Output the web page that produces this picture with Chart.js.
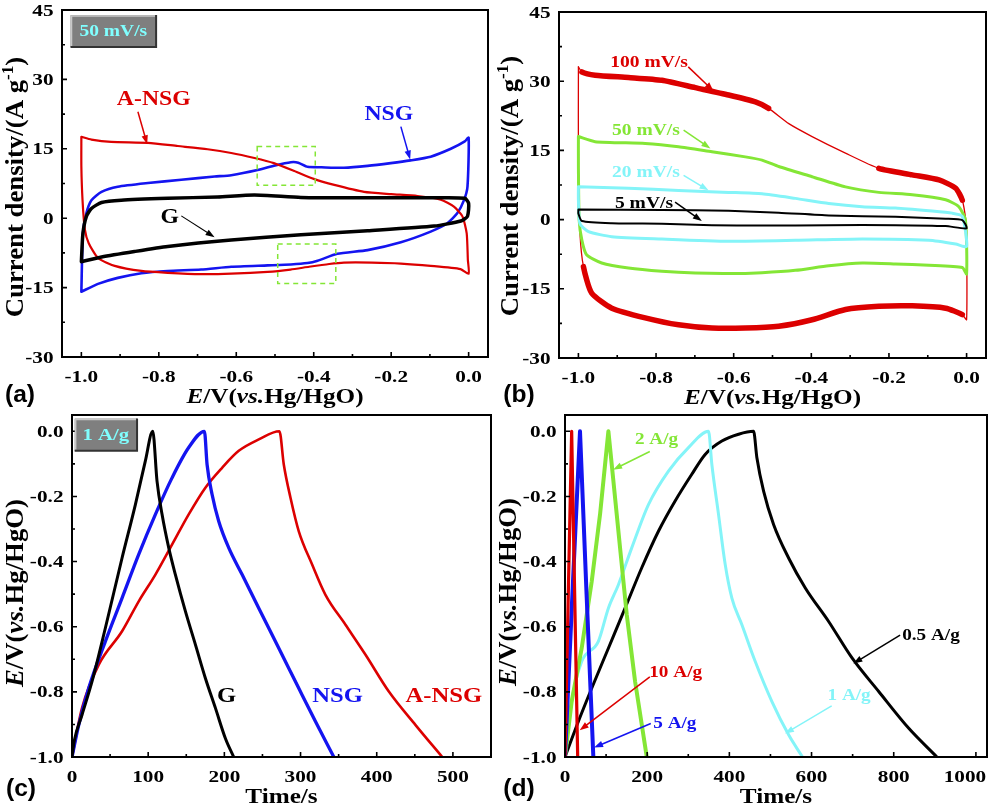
<!DOCTYPE html>
<html>
<head>
<meta charset="utf-8">
<title>CV and GCD curves</title>
<script src="https://cdn.jsdelivr.net/npm/chart.js@4.4.1/dist/chart.umd.min.js"></script>
<style>
  body { margin: 0; background: #fff; }
  #fig { position: relative; width: 990px; height: 806px; overflow: hidden; background: #fff; }
  #fig canvas { position: absolute; }
</style>
</head>
<body>
<div id="fig">
  <canvas id="cvA" width="495" height="410" style="left:0;top:0"></canvas>
  <canvas id="cvB" width="495" height="410" style="left:495px;top:0"></canvas>
  <canvas id="gcdC" width="495" height="406" style="left:0;top:400px"></canvas>
  <canvas id="gcdD" width="495" height="406" style="left:495px;top:400px"></canvas>
</div>
<script>
// ---- colours / fonts
const RED = '#dc0000', BLUE = '#1414f0', BLACK = '#000000', GREEN = '#84e636', CYAN = '#84f4f8';
const SERIF = '"Liberation Serif", "Times New Roman", serif';
const SANS = '"Liberation Sans", Arial, sans-serif';

// ---- ticks
const cvXTicks = [-1.0, -0.8, -0.6, -0.4, -0.2, 0.0];
const cvXMinor = [-0.9, -0.7, -0.5, -0.3, -0.1];
const cvYTicks = [-30, -15, 0, 15, 30, 45];
const cvYMinor = [-22.5, -7.5, 7.5, 22.5, 37.5];
const gcdYTicks = [-1.0, -0.8, -0.6, -0.4, -0.2, 0.0];
const gcdYMinor = [-0.9, -0.7, -0.5, -0.3, -0.1];
const cXTicks = [0, 100, 200, 300, 400, 500];
const cXMinor = [50, 150, 250, 350, 450];
const dXTicks = [0, 200, 400, 600, 800, 1000];
const dXMinor = [100, 300, 500, 700, 900];

// ---- (a) CV at 50 mV/s, potential E (V) and current density j (A/g), closed loops
const aNsgE = [-1.0, -0.974, -0.923, -0.828, -0.751, -0.674, -0.613, -0.553, -0.503, -0.45, -0.4, -0.347, -0.27, -0.2, -0.132, -0.072, -0.038, -0.016, -0.005, -0.002, 0.0,
  -0.021, -0.098, -0.175, -0.25, -0.322, -0.36, -0.412, -0.46, -0.519, -0.613, -0.691, -0.777, -0.845, -0.914, -0.957, -0.981, -0.991, -0.997, -1.0, -1.0];
const aNsgJ = [17.6, 17.0, 16.5, 16.3, 15.6, 14.9, 14.1, 13.0, 11.9, 10.2, 8.5, 7.2, 5.7, 5.2, 4.8, 4.0, 2.5, 0.4, -3.3, -9.0, -12.0,
  -11.0, -10.3, -9.8, -9.6, -9.6, -9.9, -10.5, -11.1, -11.6, -12.0, -12.1, -11.8, -11.4, -10.3, -8.6, -5.4, -2.4, 3.9, 11.1, 17.6];
const nsgE = [-1.0, -0.996, -0.987, -0.974, -0.948, -0.906, -0.828, -0.742, -0.656, -0.613, -0.545, -0.5, -0.459, -0.44, -0.416, -0.38, -0.322, -0.261, -0.201, -0.15, -0.098, -0.046, -0.01, 0.0,
  -0.003, -0.012, -0.029, -0.055, -0.098, -0.175, -0.261, -0.339, -0.39, -0.416, -0.459, -0.519, -0.613, -0.691, -0.777, -0.845, -0.906, -0.957, -1.0];
const nsgJ = [-15.9, -3.3, 1.1, 3.9, 5.7, 6.8, 7.6, 8.3, 9.0, 9.3, 10.4, 11.4, 12.1, 12.0, 11.1, 11.0, 10.9, 11.3, 11.9, 12.5, 13.3, 15.0, 16.6, 17.4,
  6.8, 3.9, 1.1, -1.1, -2.9, -5.2, -6.9, -7.7, -9.2, -9.7, -10.0, -10.2, -10.5, -11.1, -11.4, -11.9, -12.9, -14.2, -15.9];
const gE = [-1.0, -0.996, -0.987, -0.974, -0.948, -0.897, -0.777, -0.648, -0.553, -0.433, -0.261, -0.089, -0.01, 0.0,
  -0.003, -0.02, -0.089, -0.261, -0.433, -0.613, -0.777, -0.863, -0.948, -1.0];
const gJ = [-9.4, -3.3, 0.4, 2.1, 3.4, 3.9, 4.3, 4.6, 5.0, 4.5, 4.4, 4.4, 4.3, 3.2,
  0.4, -0.6, -1.7, -2.7, -3.6, -4.7, -6.1, -7.2, -8.4, -9.4];

// ---- (b) CV of A-NSG at several scan rates
const r100E = [-1.0, -0.991, -0.957, -0.871, -0.785, -0.699, -0.613, -0.544, -0.510, -0.458, -0.398, -0.312, -0.226, -0.140, -0.071, -0.028, -0.011, -0.002, 0.0, 0.0,
  -0.011, -0.054, -0.140, -0.226, -0.312, -0.398, -0.484, -0.570, -0.656, -0.742, -0.828, -0.914, -0.966, -0.987, -0.996, -1.0, -1.0];
const r100J = [33.1, 32.0, 31.3, 30.8, 30.2, 28.6, 27.0, 25.5, 24.1, 20.8, 18.0, 14.4, 11.1, 9.7, 8.6, 6.8, 4.2, -0.1, -3.0, -21.7,
  -20.6, -19.2, -18.7, -18.8, -19.5, -21.7, -23.1, -23.5, -23.5, -22.8, -21.3, -19.2, -15.9, -10.2, -2.9, 11.5, 33.1];
const r50E = [-1.0, -0.957, -0.828, -0.742, -0.656, -0.570, -0.527, -0.484, -0.398, -0.312, -0.226, -0.140, -0.054, -0.020, -0.003, 0.0,
  -0.011, -0.097, -0.183, -0.269, -0.355, -0.441, -0.527, -0.613, -0.699, -0.785, -0.871, -0.940, -0.979, -0.991, -0.998, -1.0, -1.0];
const r50J = [18.0, 16.9, 16.5, 15.8, 14.7, 13.6, 12.9, 11.5, 9.3, 7.1, 5.9, 5.4, 4.3, 2.8, -0.1, -11.8,
  -10.4, -9.9, -9.6, -9.4, -10.0, -11.0, -11.5, -11.7, -11.6, -11.2, -10.5, -9.4, -7.6, -4.5, -0.1, 11.5, 18.0];
const r20E = [-1.0, -0.871, -0.742, -0.613, -0.527, -0.441, -0.355, -0.269, -0.183, -0.097, -0.037, -0.011, 0.0,
  -0.028, -0.097, -0.269, -0.441, -0.613, -0.785, -0.914, -0.974, -0.996, -1.0, -1.0];
const r20J = [7.1, 6.8, 6.3, 5.9, 5.6, 4.6, 3.5, 2.8, 2.5, 1.9, 1.4, 0.7, -5.8,
  -5.3, -4.5, -4.2, -4.5, -4.7, -4.2, -3.7, -2.6, -0.9, 4.2, 7.1];
const r5E = [-1.0, -0.785, -0.613, -0.484, -0.355, -0.183, -0.054, -0.011, 0.0,
  -0.054, -0.183, -0.355, -0.527, -0.656, -0.785, -0.914, -0.991, -1.0, -1.0];
const r5J = [2.2, 2.1, 1.9, 1.5, 0.9, 0.6, 0.2, -0.1, -1.9,
  -1.4, -1.2, -1.2, -1.3, -1.2, -0.9, -0.8, -0.3, 1.3, 2.2];

// ---- (c) GCD at 1 A/g, time (s) and potential (V)
const cGT = [0, 3, 13.1, 26.3, 43.8, 65.7, 83.2, 96.3, 106, 111.6, 118.2, 127, 135.7, 148.9, 162, 175.1, 188.3, 201.4, 212.3];
const cGV = [-1.0, -0.95, -0.871, -0.768, -0.604, -0.389, -0.225, -0.091, 0.0, -0.153, -0.255, -0.358, -0.44, -0.553, -0.655, -0.758, -0.85, -0.943, -1.0];
const cNsgT = [0, 8.8, 21.9, 43.8, 65.7, 87.6, 109.5, 131.3, 153.2, 173.8, 177.3, 183.9, 192.6, 205.8, 223.3, 245.2, 271.5, 297.7, 319.6, 343.7];
const cNsgV = [-1.0, -0.902, -0.789, -0.645, -0.512, -0.378, -0.255, -0.143, -0.05, 0.0, -0.102, -0.194, -0.276, -0.358, -0.44, -0.543, -0.666, -0.789, -0.891, -1.0];
const cANsgT = [0, 13.1, 35, 65.7, 87.6, 109.5, 131.3, 153.2, 175.1, 197, 218.9, 245.2, 272.3, 278, 286.8, 297.7, 315.2, 332.7, 359, 385.3, 415.9, 451, 486];
const cANsgV = [-1.0, -0.85, -0.717, -0.614, -0.522, -0.44, -0.348, -0.255, -0.173, -0.112, -0.06, -0.025, 0.0, -0.102, -0.204, -0.307, -0.409, -0.502, -0.594, -0.686, -0.799, -0.902, -1.0];

// ---- (d) GCD of A-NSG at several current densities
const d05T = [0, 32.5, 65, 105.6, 146.2, 186.8, 227.4, 268, 308.6, 341.1, 381.7, 422.4, 458.9, 467, 483.3, 507.6, 544.2, 584.8, 641.6, 698.5, 763.5, 836.6, 905];
const d05V = [-1.0, -0.891, -0.789, -0.666, -0.543, -0.419, -0.307, -0.214, -0.132, -0.071, -0.030, -0.009, 0.0, -0.081, -0.184, -0.286, -0.389, -0.481, -0.584, -0.696, -0.799, -0.912, -1.0];
const d1T = [0, 16.2, 40.6, 81.2, 105.6, 130, 162.4, 203.1, 251.8, 300.5, 349.3, 357.4, 373.6, 389.9, 406.1, 430.5, 463, 503.6, 544.2, 578];
const d1V = [-1.0, -0.83, -0.707, -0.645, -0.543, -0.471, -0.358, -0.225, -0.122, -0.05, 0.0, -0.102, -0.255, -0.409, -0.512, -0.594, -0.707, -0.83, -0.932, -1.0];
const d2T = [0, 16.2, 40.6, 65, 85.3, 97.5, 105.6, 117.8, 134, 150.3, 170.6, 199];
const d2V = [-1.0, -0.83, -0.666, -0.461, -0.255, -0.102, 0.0, -0.153, -0.358, -0.563, -0.768, -1.0];
const d5T = [0, 18, 36.5, 52.5, 69];
const d5V = [-1.0, -0.5, 0.0, -0.5, -1.0];
const d10T = [0, 8, 16.2, 23.5, 30.9];
const d10V = [-1.0, -0.5, 0.0, -0.5, -1.0];

// ---- mixed-style text (bold serif, italic parts, superscripts)
function richText(ctx, parts, x, y, o) {
  const size = o.size, sx = o.sx || 1, fam = o.family || SERIF;
  const fontOf = st => (st === 'i' ? 'italic ' : '') + 'bold ' + (st === 's' ? Math.round(size * 0.62) : size) + 'px ' + fam;
  ctx.save();
  ctx.translate(x, y);
  if (o.rotate) ctx.rotate(-Math.PI / 2);
  ctx.scale(sx, 1);
  let total = 0;
  const widths = parts.map(p => { ctx.font = fontOf(p[1]); const w = ctx.measureText(p[0]).width; total += w; return w; });
  let cx = o.align === 'right' ? -total : (o.align === 'left' ? 0 : -total / 2);
  ctx.fillStyle = o.color || '#000';
  ctx.textBaseline = 'alphabetic';
  ctx.textAlign = 'left';
  parts.forEach((p, i) => {
    ctx.font = fontOf(p[1]);
    ctx.fillText(p[0], cx, size * 0.33 + (p[1] === 's' ? -size * 0.42 : 0));
    cx += widths[i];
  });
  ctx.restore();
}

function arrow(ctx, x1, y1, x2, y2, color, lw) {
  const ang = Math.atan2(y2 - y1, x2 - x1), hl = 9, hw = 3.2;
  ctx.save();
  ctx.strokeStyle = color; ctx.fillStyle = color; ctx.lineWidth = lw;
  ctx.beginPath(); ctx.moveTo(x1, y1);
  ctx.lineTo(x2 - Math.cos(ang) * hl * 0.8, y2 - Math.sin(ang) * hl * 0.8); ctx.stroke();
  ctx.beginPath();
  ctx.moveTo(x2, y2);
  ctx.lineTo(x2 - Math.cos(ang) * hl - Math.sin(ang) * hw, y2 - Math.sin(ang) * hl + Math.cos(ang) * hw);
  ctx.lineTo(x2 - Math.cos(ang) * hl + Math.sin(ang) * hw, y2 - Math.sin(ang) * hl - Math.cos(ang) * hw);
  ctx.closePath(); ctx.fill();
  ctx.restore();
}

// frame, inner ticks, tick labels, axis titles and annotations
const figPlugin = {
  id: 'fig',
  afterDatasetsDraw(chart, args, o) {
    const ctx = chart.ctx, a = chart.chartArea, xs = chart.scales.x, ys = chart.scales.y;
    const X = v => xs.getPixelForValue(v), Y = v => ys.getPixelForValue(v);
    ctx.save();

    (o.dashBoxes || []).forEach(b => {
      ctx.save();
      ctx.strokeStyle = GREEN; ctx.lineWidth = 1.5; ctx.setLineDash([5, 4]);
      ctx.strokeRect(X(b[0]), Y(b[2]), X(b[1]) - X(b[0]), Y(b[3]) - Y(b[2]));
      ctx.restore();
    });

    ctx.strokeStyle = '#000';
    ctx.lineWidth = 2;
    ctx.strokeRect(a.left, a.top, a.right - a.left, a.bottom - a.top);

    ctx.lineWidth = 1.6;
    ctx.beginPath();
    xs.ticks.forEach(t => { ctx.moveTo(X(t.value), a.bottom); ctx.lineTo(X(t.value), a.bottom - 5); });
    o.minorX.forEach(v => { ctx.moveTo(X(v), a.bottom); ctx.lineTo(X(v), a.bottom - 3); });
    ys.ticks.forEach(t => { ctx.moveTo(a.left, Y(t.value)); ctx.lineTo(a.left + 5, Y(t.value)); });
    o.minorY.forEach(v => { ctx.moveTo(a.left, Y(v)); ctx.lineTo(a.left + 3, Y(v)); });
    ctx.stroke();

    // the last x label is pulled in a little when it would run off the figure
    const last = xs.ticks.length - 1;
    xs.ticks.forEach((t, i) => richText(ctx, [[o.fmtX(t.value), '']], X(t.value) + (i === last ? (o.lastShift || 0) : 0), a.bottom + 19, { size: 17, sx: 1.25 }));
    ys.ticks.forEach(t => richText(ctx, [[o.fmtY(t.value), '']], a.left - 8.5, Y(t.value), { size: 17, sx: 1.25, align: 'right' }));

    richText(ctx, o.xTitle, (a.left + a.right) / 2, a.bottom + 39, { size: 20, sx: 1.26 });
    richText(ctx, o.yTitle[0], o.yTitle[1], o.yTitle[2], { size: o.yTitle[3], sx: 1.07, rotate: true });

    (o.tags || []).forEach(b => {
      const x1 = X(b.x1), x2 = X(b.x2), y1 = Y(b.y1), y2 = Y(b.y2);
      ctx.fillStyle = '#7f7f7f'; ctx.fillRect(x1, y1, x2 - x1, y2 - y1);
      ctx.strokeStyle = '#c8c8c8'; ctx.lineWidth = 1.5;
      ctx.beginPath(); ctx.moveTo(x1 + 1, y2 - 1); ctx.lineTo(x1 + 1, y1 + 1); ctx.lineTo(x2 - 1, y1 + 1); ctx.stroke();
      ctx.strokeStyle = '#333'; ctx.lineWidth = 2;
      ctx.beginPath(); ctx.moveTo(x1, y2); ctx.lineTo(x2, y2); ctx.lineTo(x2, y1); ctx.stroke();
      richText(ctx, [[b.text, '']], (x1 + x2) / 2, (y1 + y2) / 2, { size: b.size, sx: 1.22, color: '#80ffff' });
    });

    (o.arrows || []).forEach(r => arrow(ctx, X(r[0]), Y(r[1]), X(r[2]), Y(r[3]), r[4], r[5]));
    (o.labels || []).forEach(l => richText(ctx, [[l[0], '']], X(l[1]), Y(l[2]), { size: o.labelSize, sx: o.labelSx, color: l[3] }));

    richText(ctx, [[o.panel[0], '']], o.panel[1], o.panel[2], { size: 23, sx: 1.07, family: SANS });
    ctx.restore();
  }
};

const pts = (xs, ys) => xs.map((x, i) => ({ x: x, y: ys[i] }));
function series(xs, ys, color, width, extra) {
  return Object.assign({ data: pts(xs, ys), borderColor: color, borderWidth: width, pointRadius: 0, fill: false }, extra || {});
}

function makeChart(id, c) {
  return new Chart(document.getElementById(id), {
    type: 'line',
    data: { datasets: c.datasets },
    options: {
      responsive: false,
      animation: false,
      events: [],
      layout: { padding: c.padding },
      plugins: { legend: { display: false }, tooltip: { enabled: false }, fig: c.fig },
      elements: { point: { radius: 0 }, line: { borderJoinStyle: 'round', borderCapStyle: 'round' } },
      scales: {
        x: {
          type: 'linear', min: c.xMin, max: c.xMax,
          grid: { display: false, drawTicks: false }, border: { display: false },
          ticks: { display: false },
          afterBuildTicks: s => { s.ticks = c.xTicks.map(v => ({ value: v })); },
          afterFit: s => { s.height = c.xH; }
        },
        y: {
          type: 'linear', min: c.yMin, max: c.yMax,
          grid: { display: false, drawTicks: false }, border: { display: false },
          ticks: { display: false },
          afterBuildTicks: s => { s.ticks = c.yTicks.map(v => ({ value: v })); },
          afterFit: s => { s.width = c.yW; }
        }
      }
    },
    plugins: [figPlugin]
  });
}

const EVtitle = [['E', 'i'], ['/V(', ''], ['vs.', 'i'], ['Hg/HgO)', '']];
const Jtitle = [['Current density/(A g', ''], ['-1', 's'], [')', '']];
const f1 = v => v.toFixed(1), f0 = v => String(v);
const cvLine = { tension: 0.2 };
const gcdLine = { cubicInterpolationMode: 'monotone' };
const straight = { tension: 0 };

// (a)
makeChart('cvA', {
  padding: { left: 0, top: 10, right: 7, bottom: 0 }, xH: 53, yW: 62,
  xMin: -1.05, xMax: 0.05, yMin: -30, yMax: 45, xTicks: cvXTicks, yTicks: cvYTicks,
  datasets: [
    series(gE, gJ, BLACK, 3.5, cvLine),
    series(aNsgE, aNsgJ, RED, 2.2, cvLine),
    series(nsgE, nsgJ, BLUE, 2.6, cvLine)
  ],
  fig: {
    minorX: cvXMinor, minorY: cvYMinor, fmtX: f1, fmtY: f0,
    xTitle: EVtitle, yTitle: [Jtitle, 15, 187, 25],
    dashBoxes: [[-0.546, -0.396, 15.5, 7.1], [-0.493, -0.343, -5.6, -14.1]],
    tags: [{ text: '50 mV/s', x1: -1.028, x2: -0.807, y1: 43.9, y2: 37.0, size: 16 }],
    labelSize: 21, labelSx: 1.13,
    labels: [['A-NSG', -0.813, 25.9, RED], ['NSG', -0.206, 22.7, BLUE], ['G', -0.772, 0.5, BLACK]],
    arrows: [[-0.854, 23.0, -0.830, 16.0, RED, 1.5], [-0.175, 19.8, -0.151, 12.7, BLUE, 1.5], [-0.742, 0.5, -0.656, -4.1, BLACK, 1.1]],
    panel: ['(a)', 20, 394]
  }
});

// (b)
const red100Width = ctx => {
  const x0 = ctx.p0.parsed.x, x1 = ctx.p1.parsed.x, y0 = ctx.p0.parsed.y;
  if ((x0 > -0.015 && x1 > -0.015) || (x0 < -0.985 && x1 < -0.985)) return 1.3;
  if (y0 > 0 && Math.min(x0, x1) >= -0.515 && Math.max(x0, x1) <= -0.22) return 1.3;
  return 5.5;
};
makeChart('cvB', {
  padding: { left: 0, top: 12, right: 4, bottom: 0 }, xH: 52, yW: 64,
  xMin: -1.05, xMax: 0.05, yMin: -30, yMax: 45, xTicks: cvXTicks, yTicks: cvYTicks,
  datasets: [
    series(r5E, r5J, BLACK, 2, cvLine),
    series(r20E, r20J, CYAN, 3, cvLine),
    series(r50E, r50J, GREEN, 3, cvLine),
    series(r100E, r100J, RED, 5.5, Object.assign({ segment: { borderWidth: red100Width } }, cvLine))
  ],
  fig: {
    minorX: cvXMinor, minorY: cvYMinor, fmtX: f1, fmtY: f0,
    xTitle: EVtitle, yTitle: [Jtitle, 15, 186, 25],
    labelSize: 17, labelSx: 1.15,
    labels: [['100 mV/s', -0.818, 34.4, RED], ['50 mV/s', -0.826, 19.5, GREEN], ['20 mV/s', -0.826, 10.4, CYAN], ['5 mV/s', -0.831, 3.8, BLACK]],
    arrows: [[-0.717, 33.1, -0.652, 27.9, RED, 1.5], [-0.729, 19.4, -0.660, 15.4, GREEN, 1.5],
             [-0.729, 9.6, -0.665, 6.35, CYAN, 1.5], [-0.751, 3.8, -0.682, -0.3, BLACK, 1.5]],
    panel: ['(b)', 24, 394]
  }
});

// (c)
makeChart('gcdC', {
  padding: { left: 0, top: 15, right: 4, bottom: 0 }, xH: 49, yW: 72,
  xMin: 0, xMax: 550, yMin: -1.0, yMax: 0.05, xTicks: cXTicks, yTicks: gcdYTicks,
  datasets: [
    series(cGT, cGV, BLACK, 3, gcdLine),
    series(cNsgT, cNsgV, BLUE, 3.3, gcdLine),
    series(cANsgT, cANsgV, RED, 2.6, gcdLine)
  ],
  fig: {
    minorX: cXMinor, minorY: gcdYMinor, fmtX: f0, fmtY: f1,
    xTitle: [['Time/s', '']], yTitle: [EVtitle, 15, 193, 25],
    tags: [{ text: '1 A/g', x1: 3.5, x2: 85.4, y1: 0.039, y2: -0.060, size: 17 }],
    labelSize: 22, labelSx: 1.12,
    labels: [['G', 202.8, -0.81, BLACK], ['NSG', 348.5, -0.81, BLUE], ['A-NSG', 488, -0.81, RED]],
    panel: ['(c)', 21, 388]
  }
});

// (d)
makeChart('gcdD', {
  padding: { left: 0, top: 15, right: 3, bottom: 0 }, xH: 49, yW: 70,
  xMin: 0, xMax: 1027, yMin: -1.0, yMax: 0.05, xTicks: dXTicks, yTicks: gcdYTicks,
  datasets: [
    series(d10T, d10V, RED, 3.2, straight),
    series(d5T, d5V, BLUE, 4, straight),
    series(d2T, d2V, GREEN, 4, straight),
    series(d1T, d1V, CYAN, 3, gcdLine),
    series(d05T, d05V, BLACK, 3, gcdLine)
  ],
  fig: {
    minorX: dXMinor, minorY: gcdYMinor, fmtX: f0, fmtY: f1, lastShift: -11,
    xTitle: [['Time/s', '']], yTitle: [EVtitle, 13, 192, 25],
    labelSize: 17, labelSx: 1.13,
    labels: [['2 A/g', 222.7, -0.022, GREEN], ['0.5 A/g', 890.6, -0.623, BLACK], ['10 A/g', 269.3, -0.738, RED],
             ['5 A/g', 267.3, -0.895, BLUE], ['1 A/g', 691.4, -0.807, CYAN]],
    arrows: [[206.4, -0.062, 117, -0.118, GREEN, 1.5], [815.5, -0.626, 701.8, -0.713, BLACK, 1.5],
             [206.4, -0.754, 35.8, -0.918, RED, 1.5], [208.8, -0.897, 70.7, -0.971, BLUE, 1.5],
             [649, -0.843, 535.4, -0.928, CYAN, 1.5]],
    panel: ['(d)', 24, 388]
  }
});
</script>
</body>
</html>
